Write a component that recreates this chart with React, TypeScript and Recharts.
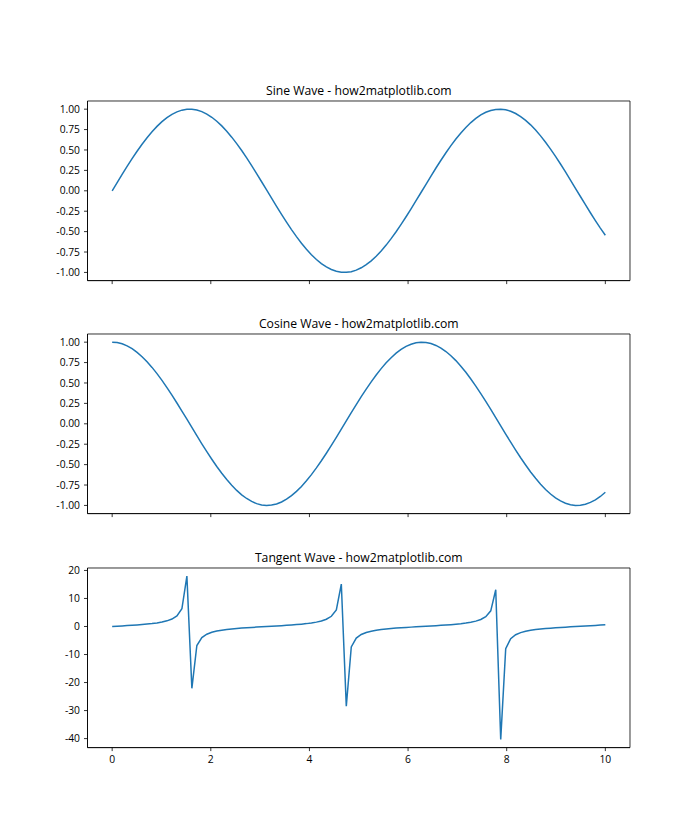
import React from 'react';
import { LineChart, Line, XAxis, YAxis, ReferenceArea } from 'recharts';

const xs = [
  0, 0.101, 0.202, 0.303, 0.404, 0.5051, 0.6061, 0.7071, 0.8081, 0.9091,
  1.0101, 1.1111, 1.2121, 1.3131, 1.4141, 1.5152, 1.6162, 1.7172, 1.8182, 1.9192,
  2.0202, 2.1212, 2.2222, 2.3232, 2.4242, 2.5253, 2.6263, 2.7273, 2.8283, 2.9293,
  3.0303, 3.1313, 3.2323, 3.3333, 3.4343, 3.5354, 3.6364, 3.7374, 3.8384, 3.9394,
  4.0404, 4.1414, 4.2424, 4.3434, 4.4444, 4.5455, 4.6465, 4.7475, 4.8485, 4.9495,
  5.0505, 5.1515, 5.2525, 5.3535, 5.4545, 5.5556, 5.6566, 5.7576, 5.8586, 5.9596,
  6.0606, 6.1616, 6.2626, 6.3636, 6.4646, 6.5657, 6.6667, 6.7677, 6.8687, 6.9697,
  7.0707, 7.1717, 7.2727, 7.3737, 7.4747, 7.5758, 7.6768, 7.7778, 7.8788, 7.9798,
  8.0808, 8.1818, 8.2828, 8.3838, 8.4848, 8.5859, 8.6869, 8.7879, 8.8889, 8.9899,
  9.0909, 9.1919, 9.2929, 9.3939, 9.4949, 9.596, 9.697, 9.798, 9.899, 10,
];

const sineValues = [
  0, 0.101, 0.201, 0.298, 0.393, 0.484, 0.570, 0.650, 0.723, 0.789,
  0.847, 0.896, 0.936, 0.967, 0.988, 0.998, 0.999, 0.989, 0.970, 0.940,
  0.901, 0.852, 0.795, 0.730, 0.657, 0.578, 0.493, 0.403, 0.308, 0.211,
  0.111, 0.010, -0.091, -0.191, -0.289, -0.384, -0.475, -0.561, -0.642, -0.716,
  -0.783, -0.841, -0.892, -0.933, -0.964, -0.986, -0.998, -0.999, -0.991, -0.972,
  -0.943, -0.905, -0.858, -0.802, -0.737, -0.665, -0.586, -0.502, -0.412, -0.318,
  -0.221, -0.121, -0.021, 0.080, 0.181, 0.279, 0.374, 0.466, 0.553, 0.634,
  0.709, 0.776, 0.836, 0.887, 0.929, 0.962, 0.984, 0.997, 1.000, 0.992,
  0.974, 0.947, 0.909, 0.863, 0.808, 0.744, 0.673, 0.595, 0.511, 0.421,
  0.328, 0.231, 0.132, 0.031, -0.070, -0.170, -0.269, -0.365, -0.457, -0.544,
];

const cosineValues = [
  1, 0.995, 0.980, 0.954, 0.920, 0.875, 0.822, 0.760, 0.691, 0.615,
  0.532, 0.444, 0.351, 0.255, 0.156, 0.056, -0.045, -0.146, -0.245, -0.341,
  -0.434, -0.523, -0.606, -0.683, -0.753, -0.816, -0.870, -0.915, -0.951, -0.978,
  -0.994, -1.000, -0.996, -0.982, -0.958, -0.924, -0.880, -0.828, -0.767, -0.698,
  -0.623, -0.540, -0.453, -0.361, -0.265, -0.166, -0.066, 0.035, 0.136, 0.235,
  0.332, 0.425, 0.514, 0.598, 0.676, 0.747, 0.810, 0.865, 0.911, 0.948,
  0.975, 0.993, 1.000, 0.997, 0.984, 0.960, 0.927, 0.885, 0.833, 0.774,
  0.706, 0.631, 0.549, 0.462, 0.370, 0.275, 0.176, 0.076, -0.025, -0.126,
  -0.225, -0.322, -0.416, -0.505, -0.590, -0.668, -0.740, -0.804, -0.860, -0.907,
  -0.945, -0.973, -0.991, -1.000, -0.998, -0.985, -0.963, -0.931, -0.890, -0.839,
];

const tangentValues = [
  0, 0.101, 0.205, 0.313, 0.428, 0.553, 0.693, 0.854, 1.046, 1.284,
  1.593, 2.020, 2.668, 3.795, 6.33, 17.96, -22.05, -6.78, -3.96, -2.753,
  -2.073, -1.630, -1.311, -1.068, -0.873, -0.708, -0.566, -0.440, -0.324, -0.216,
  -0.112, -0.010, 0.091, 0.194, 0.301, 0.416, 0.540, 0.678, 0.837, 1.025,
  1.257, 1.557, 1.969, 2.586, 3.642, 5.933, 15.14, -28.47, -7.30, -4.138,
  -2.844, -2.129, -1.668, -1.340, -1.091, -0.891, -0.724, -0.580, -0.452, -0.335,
  -0.226, -0.122, -0.021, 0.081, 0.184, 0.290, 0.404, 0.526, 0.663, 0.820,
  1.004, 1.231, 1.522, 1.920, 2.509, 3.502, 5.583, 13.10, -40.3, -7.905,
  -4.333, -2.940, -2.187, -1.707, -1.369, -1.113, -0.909, -0.740, -0.594, -0.465,
  -0.347, -0.237, -0.133, -0.031, 0.070, 0.173, 0.279, 0.392, 0.513, 0.648,
];

const titles = [
  'Sine Wave - how2matplotlib.com',
  'Cosine Wave - how2matplotlib.com',
  'Tangent Wave - how2matplotlib.com',
];

const xTicks = [0, 2, 4, 6, 8, 10];
const trigYTicks = [-1, -0.75, -0.5, -0.25, 0, 0.25, 0.5, 0.75, 1];
const tanYTicks = [-40, -30, -20, -10, 0, 10, 20];

const xDomain: [number, number] = [-0.5, 10.5];
const sineDomain: [number, number] = [-1.1, 1.1];
const cosineDomain: [number, number] = [-1.1, 1.1];
const tanDomain: [number, number] = [-43.21, 20.87];

const rows = xs.map((x, i) => ({
  x,
  sin: sineValues[i],
  cos: cosineValues[i],
  tan: tangentValues[i],
}));

const FONT = '"Open Sans", "Noto Sans", sans-serif';
const PLOT_LEFT = 87.5;
const PLOT_RIGHT = 630;
const PLOT_H = 179.6;
const PANEL_TOPS = [100.8, 334.4, 568.0];
const Y_AXIS_W = 60;
const TOP_PAD = 10;
const X_AXIS_H = 30;

const axisStroke = { stroke: '#000', strokeWidth: 0.8 };

interface PanelProps {
  idx: number;
  dataKey: string;
  domain: [number, number];
  yTicks: number[];
  yFmt: (v: number) => string;
  showXLabels: boolean;
}

function Panel({ idx, dataKey, domain, yTicks, yFmt, showXLabels }: PanelProps) {
  const top = PANEL_TOPS[idx];
  const h = TOP_PAD + PLOT_H + X_AXIS_H;
  return (
    <>
      <div
        style={{
          position: 'absolute',
          left: PLOT_LEFT,
          width: PLOT_RIGHT - PLOT_LEFT,
          top: top - 18,
          height: 16,
          lineHeight: '16px',
          textAlign: 'center',
          fontFamily: FONT,
          fontSize: 12.2,
          color: '#000',
          whiteSpace: 'nowrap',
        }}
      >
        {titles[idx]}
      </div>
      <div style={{ position: 'absolute', left: 0, top: top - TOP_PAD, width: 700, height: h }}>
        <LineChart
          width={700}
          height={h}
          data={rows}
          margin={{ top: TOP_PAD, right: 700 - PLOT_RIGHT, left: PLOT_LEFT - Y_AXIS_W, bottom: 0 }}
        >
          <XAxis
            dataKey="x"
            type="number"
            domain={xDomain}
            ticks={xTicks}
            interval={0}
            allowDataOverflow
            height={X_AXIS_H}
            tickSize={3.5}
            tickMargin={4.5}
            axisLine={axisStroke}
            tickLine={axisStroke}
            tick={{ fill: '#000', fontSize: 10.3, fontFamily: FONT }}
            tickFormatter={(v: number) => (showXLabels ? String(v) : '')}
          />
          <YAxis
            type="number"
            domain={domain}
            ticks={yTicks}
            interval={0}
            allowDataOverflow
            width={Y_AXIS_W}
            tickSize={3.5}
            tickMargin={4}
            axisLine={axisStroke}
            tickLine={axisStroke}
            tick={{ fill: '#000', fontSize: 10.3, fontFamily: FONT }}
            tickFormatter={yFmt}
          />
          <ReferenceArea
            x1={xDomain[0]}
            x2={xDomain[1]}
            y1={domain[0]}
            y2={domain[1]}
            fill="none"
            fillOpacity={0}
            stroke="#000"
            strokeWidth={0.8}
            ifOverflow="visible"
          />
          <Line
            dataKey={dataKey}
            type="linear"
            stroke="#1f77b4"
            strokeWidth={1.5}
            dot={false}
            activeDot={false}
            isAnimationActive={false}
          />
        </LineChart>
      </div>
    </>
  );
}

export default function App() {
  const trigFmt = (v: number) => v.toFixed(2);
  const tanFmt = (v: number) => String(v);
  return (
    <div
      style={{
        position: 'absolute',
        left: 0,
        top: 0,
        width: 700,
        height: 840,
        background: '#fff',
        overflow: 'hidden',
      }}
    >
      <Panel idx={0} dataKey="sin" domain={sineDomain} yTicks={trigYTicks} yFmt={trigFmt} showXLabels={false} />
      <Panel idx={1} dataKey="cos" domain={cosineDomain} yTicks={trigYTicks} yFmt={trigFmt} showXLabels={false} />
      <Panel idx={2} dataKey="tan" domain={tanDomain} yTicks={tanYTicks} yFmt={tanFmt} showXLabels={true} />
    </div>
  );
}
